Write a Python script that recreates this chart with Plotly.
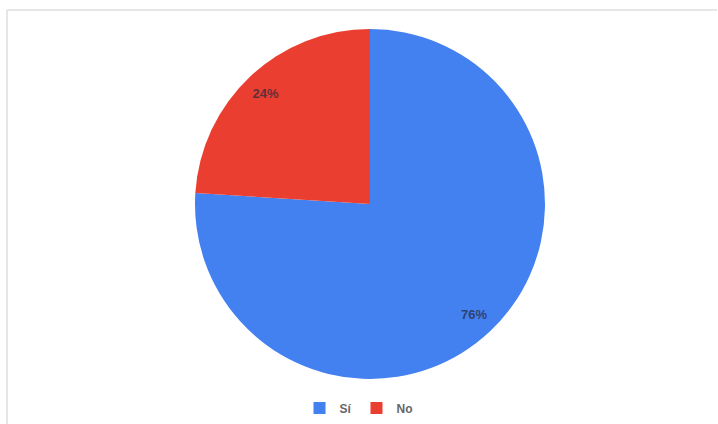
import plotly.graph_objects as go

labels = ["Sí", "No"]
values = [76, 24]
colors = ["#4380f0", "#ea3f30"]

W, H = 718, 424
cx, cy, r = 370, 204, 175
dom = dict(x=[(cx - r) / W, (cx + r) / W], y=[(H - cy - r) / H, (H - cy + r) / H])

fig = go.Figure()
fig.add_trace(go.Pie(
    labels=labels, values=values, sort=False, direction="clockwise", rotation=0,
    marker=dict(colors=colors, line=dict(width=0)),
    textinfo="none", domain=dom, hoverinfo="label+percent",
))
# transparent ring used only to place the percentage labels near the rim
fig.add_trace(go.Pie(
    labels=labels, values=values, sort=False, direction="clockwise", rotation=0,
    hole=0.74, showlegend=False, hoverinfo="skip",
    marker=dict(colors=["rgba(0,0,0,0)", "rgba(0,0,0,0)"], line=dict(width=0)),
    textinfo="percent", textposition="inside", insidetextorientation="horizontal",
    textfont=dict(family="Arial, Liberation Sans", size=13, color="rgba(40,40,60,0.72)", weight=600),
    domain=dom,
))

fig.update_layout(
    width=W, height=H, margin=dict(l=0, r=0, t=0, b=0),
    paper_bgcolor="white", plot_bgcolor="white",
    showlegend=True,
    legend=dict(orientation="h", x=0.5, xanchor="center", y=(H - 408) / H, yanchor="middle",
                font=dict(family="Arial, Liberation Sans", size=12, color="#666666", weight=600),
                itemwidth=30, tracegroupgap=0),
    shapes=[
        dict(type="line", xref="paper", yref="paper", x0=7 / W, x1=717 / W, y0=(H - 10) / H, y1=(H - 10) / H,
             line=dict(color="#dedede", width=1.5)),
        dict(type="line", xref="paper", yref="paper", x0=7 / W, x1=7 / W, y0=(H - 10) / H, y1=0,
             line=dict(color="#dedede", width=1.5)),
    ],
)

fig.write_html("out.html", config={"displayModeBar": False},
               post_script="document.body.style.margin='0';document.body.style.padding='0';")
